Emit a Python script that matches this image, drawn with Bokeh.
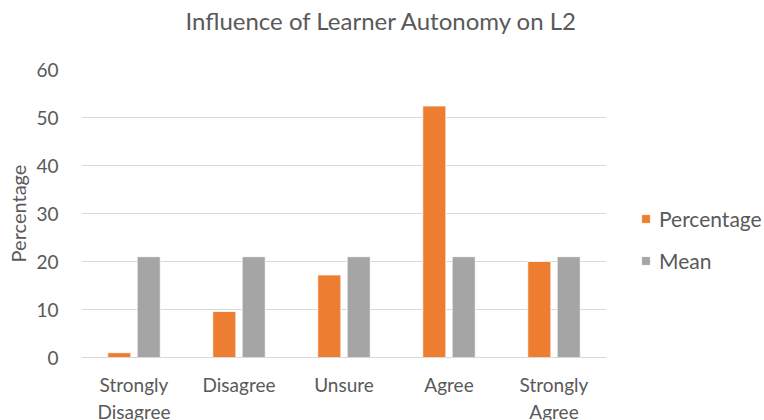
from bokeh.plotting import figure
from bokeh.models import FactorRange, Legend, LegendItem, Range1d, SingleIntervalTicker
from bokeh.transform import dodge
from bokeh.embed import file_html
from bokeh.resources import INLINE

categories = ["Strongly\nDisagree", "Disagree", "Unsure", "Agree", "Strongly\nAgree"]
percentage = [1.0, 9.6, 17.2, 52.4, 20.0]
mean = [21.0, 21.0, 21.0, 21.0, 21.0]

ORANGE = "#ED7D31"
GRAY = "#A5A5A5"
TXT = "#595959"
FONT = "Lato"

p = figure(x_range=FactorRange(*categories), y_range=Range1d(0, 60),
           frame_width=525, frame_height=288, output_backend="svg", toolbar_location=None,
           min_border_left=81, min_border_right=145, min_border_top=69, min_border_bottom=55)

src = dict(cat=categories, pct=percentage, mean=mean)
r1 = p.vbar(x=dodge("cat", -0.14, range=p.x_range), top="pct", width=0.22, source=src,
            fill_color=ORANGE, line_color="white", line_width=0.8)
r2 = p.vbar(x=dodge("cat", 0.14, range=p.x_range), top="mean", width=0.22, source=src,
            fill_color=GRAY, line_color="white", line_width=0.8)

p.title.text = "Influence of Learner Autonomy on L2\n "
p.title.align = "left"
p.title.vertical_align = "top"
p.title.offset = 104
p.title.text_font = FONT
p.title.text_font_size = "24px"
p.title.text_font_style = "normal"
p.title.text_color = TXT
p.title.standoff = 8

p.outline_line_color = None
p.xgrid.grid_line_color = None
p.ygrid.grid_line_color = "#D9D9D9"
p.ygrid.grid_line_width = 1

p.yaxis.ticker = SingleIntervalTicker(interval=10)
p.yaxis.axis_line_color = None
p.yaxis.major_tick_line_color = None
p.yaxis.minor_tick_line_color = None
p.yaxis.major_label_text_font = FONT
p.yaxis.major_label_text_font_size = "19px"
p.yaxis.major_label_text_color = TXT
p.yaxis.major_label_standoff = 17
p.yaxis.axis_label = "Percentage"
p.yaxis.axis_label_text_font = FONT
p.yaxis.axis_label_text_font_size = "20px"
p.yaxis.axis_label_text_font_style = "normal"
p.yaxis.axis_label_text_color = TXT
p.yaxis.axis_label_standoff = 3

p.xaxis.axis_line_color = "#D9D9D9"
p.xaxis.major_tick_line_color = None
p.xaxis.minor_tick_line_color = None
p.xaxis.major_label_text_font = FONT
p.xaxis.major_label_text_font_size = "19px"
p.xaxis.major_label_text_color = TXT
p.xaxis.major_label_standoff = 9
p.x_range.range_padding = 0
p.x_range.group_padding = 0

legend = Legend(items=[LegendItem(label="Percentage", renderers=[r1]),
                       LegendItem(label="Mean", renderers=[r2])],
                location=(34, 84), orientation="vertical",
                background_fill_alpha=0, border_line_color=None,
                glyph_width=11, glyph_height=11, label_height=20,
                spacing=17, padding=0, margin=0, label_standoff=8,
                label_text_font=FONT, label_text_font_size="21px", label_text_color=TXT)
p.add_layout(legend, "right")

open("out.html", "w").write(file_html(p, INLINE))
